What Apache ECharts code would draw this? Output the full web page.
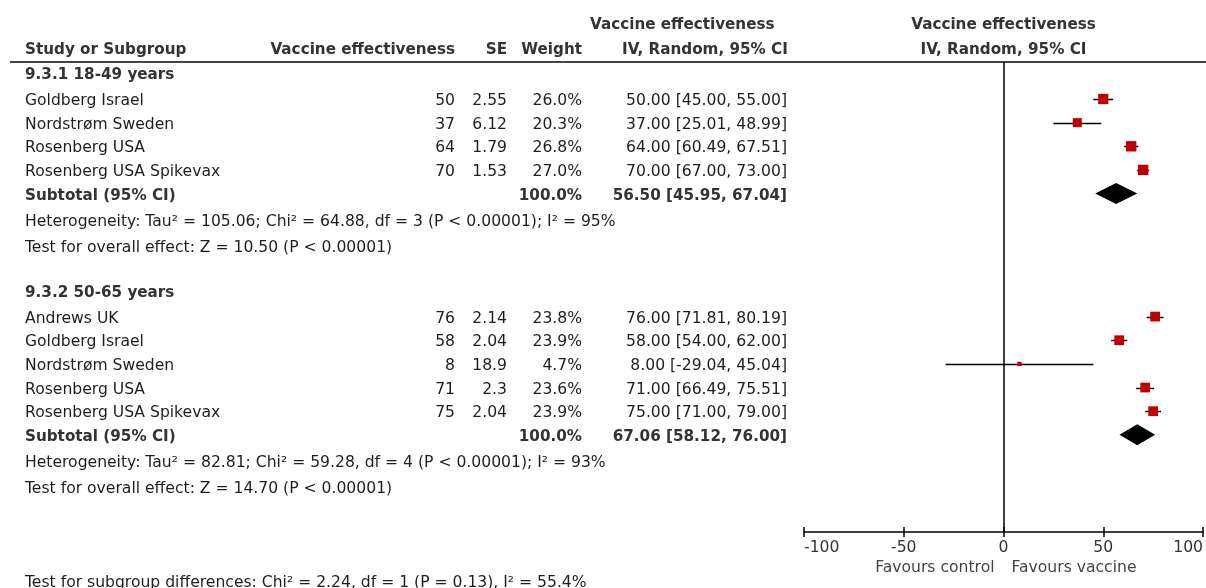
<!DOCTYPE html>
<html>
<head>
<meta charset="utf-8">
<script src="https://cdn.jsdelivr.net/npm/echarts@6/dist/echarts.min.js"></script>
<style>
  html, body { margin: 0; padding: 0; background: #fff; }
  #chart { width: 1206px; height: 588px; }
</style>
</head>
<body>
<div id="chart"></div>
<script>
// ---- Subgroup 9.3.1 ----
const group1Title = '9.3.1 18-49 years';
const group1Studies = ['Goldberg Israel', 'Nordstrøm Sweden', 'Rosenberg USA', 'Rosenberg USA Spikevax'];
const group1VE = [50, 37, 64, 70];
const group1SE = [2.55, 6.12, 1.79, 1.53];
const group1Weight = [26.0, 20.3, 26.8, 27.0];
const group1Lower = [45.00, 25.01, 60.49, 67.00];
const group1Upper = [55.00, 48.99, 67.51, 73.00];
const group1Total = [56.50, 45.95, 67.04];   // estimate, lower, upper
const group1TotalWeight = 100.0;
const group1Heterogeneity = 'Heterogeneity: Tau\u00b2 = 105.06; Chi\u00b2 = 64.88, df = 3 (P < 0.00001); I\u00b2 = 95%';
const group1Overall = 'Test for overall effect: Z = 10.50 (P < 0.00001)';

// ---- Subgroup 9.3.2 ----
const group2Title = '9.3.2 50-65 years';
const group2Studies = ['Andrews UK', 'Goldberg Israel', 'Nordstrøm Sweden', 'Rosenberg USA', 'Rosenberg USA Spikevax'];
const group2VE = [76, 58, 8, 71, 75];
const group2SE = [2.14, 2.04, 18.9, 2.3, 2.04];
const group2Weight = [23.8, 23.9, 4.7, 23.6, 23.9];
const group2Lower = [71.81, 54.00, -29.04, 66.49, 71.00];
const group2Upper = [80.19, 62.00, 45.04, 75.51, 79.00];
const group2Total = [67.06, 58.12, 76.00];
const group2TotalWeight = 100.0;
const group2Heterogeneity = 'Heterogeneity: Tau\u00b2 = 82.81; Chi\u00b2 = 59.28, df = 4 (P < 0.00001); I\u00b2 = 93%';
const group2Overall = 'Test for overall effect: Z = 14.70 (P < 0.00001)';

const subgroupDifferences = 'Test for subgroup differences: Chi\u00b2 = 2.24, df = 1 (P = 0.13), I\u00b2 = 55.4%';

// ---- Axis ----
const axisTicks = [-100, -50, 0, 50, 100];
const axisLeftLabel = 'Favours control';
const axisRightLabel = 'Favours vaccine';
const headerCols = ['Study or Subgroup', 'Vaccine effectiveness', 'SE', 'Weight'];
const headerEffect = ['Vaccine effectiveness', 'IV, Random, 95% CI'];

// ---- Layout ----
const W = 1206, H = 588;
const PLOT_TOP = 62, AXIS_Y = 532, PLOT_LEFT = 804, PLOT_RIGHT = 1204;
const FONT = '"DejaVu Sans", Verdana, sans-serif';
const FS = 15.6;        // regular text
const FS_BOLD = 15.2;   // bold text
const TXT = '#1e1e1e', BOLD_TXT = '#333';
const COL = { name: 25, ve: 455, se: 507, weight: 582, ci: 787 };
const ROW_STEP = 23.65;
const MARK_SHIFT = -2;   // squares sit slightly above the text centre
const RED = '#c00000';

const groups = [
  { title: group1Title, names: group1Studies, ve: group1VE, se: group1SE, w: group1Weight,
    lo: group1Lower, hi: group1Upper, total: group1Total, totalW: group1TotalWeight,
    het: group1Heterogeneity, overall: group1Overall },
  { title: group2Title, names: group2Studies, ve: group2VE, se: group2SE, w: group2Weight,
    lo: group2Lower, hi: group2Upper, total: group2Total, totalW: group2TotalWeight,
    het: group2Heterogeneity, overall: group2Overall }
];

const fmt2 = v => v.toFixed(2);
const ciText = (e, l, u) => `${fmt2(e)} [${fmt2(l)}, ${fmt2(u)}]`;

const texts = [];
const studyData = [];
const totalData = [];

function addText(str, x, y, align, bold, color) {
  texts.push({
    type: 'text', x: x, y: y, silent: true,
    style: {
      text: str, fill: color || (bold ? BOLD_TXT : TXT),
      font: `${bold ? 'bold ' : ''}${bold ? FS_BOLD : FS}px ${FONT}`,
      align: align, textAlign: align, verticalAlign: 'middle', textVerticalAlign: 'middle'
    }
  });
}

// column headers
addText(headerEffect[0], 590, 25, 'left', true);
addText(headerCols[0], COL.name, 50, 'left', true);
addText(headerCols[1], COL.ve, 50, 'right', true);
addText(headerCols[2], COL.se, 50, 'right', true);
addText(headerCols[3], COL.weight, 50, 'right', true);
addText(headerEffect[1], 622, 50, 'left', true);

let y = 75;
groups.forEach((g, gi) => {
  if (gi > 0) y += 45;
  addText(g.title, COL.name, y, 'left', true);
  y += 26;
  g.names.forEach((n, i) => {
    addText(n, COL.name, y, 'left', false);
    addText(String(g.ve[i]), COL.ve, y, 'right', false);
    addText(String(g.se[i]), COL.se, y, 'right', false);
    addText(g.w[i].toFixed(1) + '%', COL.weight, y, 'right', false);
    addText(ciText(g.ve[i], g.lo[i], g.hi[i]), COL.ci, y, 'right', false);
    studyData.push([g.ve[i], y + MARK_SHIFT, g.lo[i], g.hi[i], g.w[i]]);
    y += ROW_STEP;
  });
  addText('Subtotal (95% CI)', COL.name, y, 'left', true);
  addText(g.totalW.toFixed(1) + '%', COL.weight, y, 'right', true);
  addText(ciText(g.total[0], g.total[1], g.total[2]), COL.ci, y, 'right', true);
  totalData.push([g.total[0], y + MARK_SHIFT, g.total[1], g.total[2]]);
  y += 26.5;
  addText(g.het, COL.name, y, 'left', false);
  y += 25.5;
  addText(g.overall, COL.name, y, 'left', false);
});
addText(subgroupDifferences, COL.name, 583, 'left', false);

const chart = echarts.init(document.getElementById('chart'), null, { renderer: 'canvas' });

const baseAxis = {
  type: 'value', min: -100, max: 100, interval: 50, position: 'bottom',
  splitLine: { show: false }
};

chart.setOption({
  animation: false,
  backgroundColor: '#fff',
  grid: { left: PLOT_LEFT, right: W - PLOT_RIGHT, top: PLOT_TOP, bottom: H - AXIS_Y, containLabel: false },
  xAxis: [
    Object.assign({}, baseAxis, {
      axisLine: { show: true, onZero: false, lineStyle: { color: '#000', width: 1.5 } },
      axisTick: { show: true, length: 5, lineStyle: { color: '#000', width: 1.5 }, customValues: axisTicks },
      axisLabel: {
        show: true, margin: 8, color: '#333', fontFamily: FONT, fontSize: FS,
        customValues: axisTicks, alignMinLabel: 'left', alignMaxLabel: 'right'
      }
    }),
    Object.assign({}, baseAxis, {
      axisLine: { show: false, onZero: false },
      axisTick: { show: true, inside: true, length: 5, lineStyle: { color: '#000', width: 1.5 }, customValues: axisTicks },
      axisLabel: { show: false }
    })
  ],
  yAxis: {
    type: 'value', min: PLOT_TOP, max: AXIS_Y, inverse: true, show: false
  },
  series: [
    {
      name: 'studies', type: 'custom', data: studyData, clip: false,
      encode: { x: [0, 2, 3], y: 1 },
      renderItem: function (params, api) {
        const c = api.coord([api.value(0), api.value(1)]);
        const l = api.coord([api.value(2), api.value(1)]);
        const h = api.coord([api.value(3), api.value(1)]);
        const side = 2 * Math.sqrt(api.value(4));
        const yy = Math.round(c[1]) + 0.5;
        return {
          type: 'group',
          children: [
            { type: 'line', shape: { x1: l[0], y1: yy, x2: h[0], y2: yy },
              style: { stroke: '#000', lineWidth: 1.5 } },
            { type: 'rect', shape: { x: c[0] - side / 2, y: c[1] - side / 2, width: side, height: side },
              style: { fill: RED } }
          ]
        };
      },
      markLine: {
        silent: true, symbol: 'none', label: { show: false },
        lineStyle: { color: '#000', width: 1.5, type: 'solid' },
        data: [{ xAxis: 0 }]
      }
    },
    {
      name: 'subtotals', type: 'custom', data: totalData, clip: false,
      encode: { x: [0, 2, 3], y: 1 },
      renderItem: function (params, api) {
        const c = api.coord([api.value(0), api.value(1)]);
        const l = api.coord([api.value(2), api.value(1)]);
        const h = api.coord([api.value(3), api.value(1)]);
        const half = 10.5;
        return {
          type: 'polygon',
          shape: { points: [[l[0], c[1]], [c[0], c[1] - half], [h[0], c[1]], [c[0], c[1] + half]] },
          style: { fill: '#000' }
        };
      }
    }
  ]
});

// Header above the plot and the direction captions, centred on the no-effect line
const zeroX = chart.convertToPixel({ xAxisIndex: 0 }, 0);
addText(headerEffect[0], zeroX, 25, 'center', true);
addText(headerEffect[1], zeroX, 50, 'center', true);
addText(axisLeftLabel, zeroX - 9, 568, 'right', false, '#444');
addText(axisRightLabel, zeroX + 8, 568, 'left', false, '#444');
texts.push({
  type: 'line', silent: true,
  shape: { x1: 10, y1: PLOT_TOP, x2: W, y2: PLOT_TOP },
  style: { stroke: '#444', lineWidth: 2 }
});

chart.setOption({ graphic: { elements: texts } });
</script>
</body>
</html>
